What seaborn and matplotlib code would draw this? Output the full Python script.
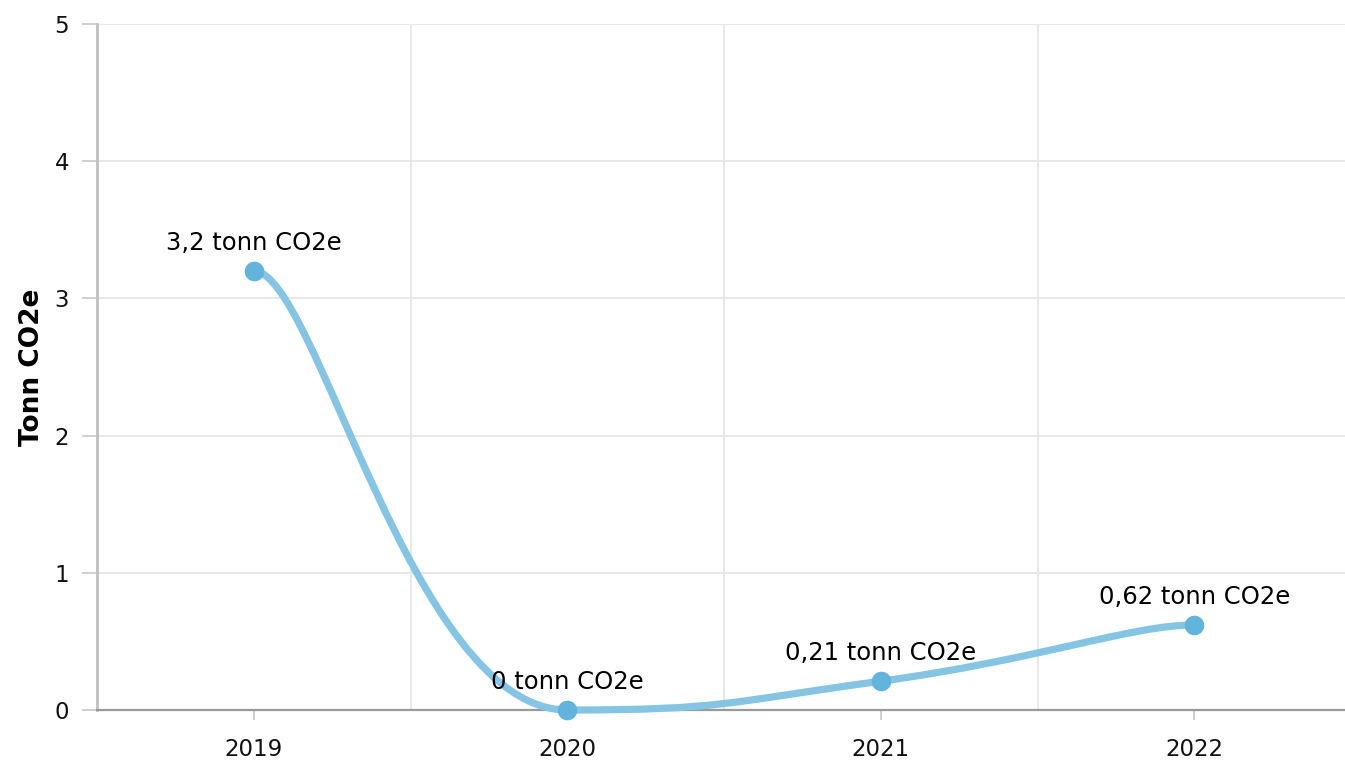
import pandas as pd
import seaborn as sns
import matplotlib.pyplot as plt
from matplotlib.path import Path
from matplotlib.patches import PathPatch

# Data
years = ["2019", "2020", "2021", "2022"]
values = [3.2, 0.0, 0.21, 0.62]
point_labels = ["3,2 tonn CO2e", "0 tonn CO2e", "0,21 tonn CO2e", "0,62 tonn CO2e"]
y_ticks = [0, 1, 2, 3, 4, 5]

line_color = "#85c5e3"
dot_color = "#62b4dc"
grid_color = "#e6e6e6"

sns.set_style("white")
plt.rcParams["font.family"] = ["DejaVu Sans"]

df = pd.DataFrame({"pos": list(range(len(years))), "value": values})


def spline_path(xs, ys):
    # smooth curve through the points, flat at the ends and at turning points
    n = len(xs)
    slopes = []
    for i in range(n):
        if i == 0 or i == n - 1:
            slopes.append(0.0)
        elif (ys[i] - ys[i - 1]) * (ys[i + 1] - ys[i]) <= 0:
            slopes.append(0.0)
        else:
            slopes.append((ys[i + 1] - ys[i - 1]) / (xs[i + 1] - xs[i - 1]))
    handles = [0.2 if i in (0, n - 1) else 0.5 for i in range(n)]
    verts = [(xs[0], ys[0])]
    codes = [Path.MOVETO]
    for i in range(n - 1):
        dx = xs[i + 1] - xs[i]
        h0 = handles[i] * dx
        h1 = handles[i + 1] * dx
        verts += [(xs[i] + h0, ys[i] + slopes[i] * h0),
                  (xs[i + 1] - h1, ys[i + 1] - slopes[i + 1] * h1),
                  (xs[i + 1], ys[i + 1])]
        codes += [Path.CURVE4] * 3
    return Path(verts, codes)


fig = plt.figure(figsize=(13.45, 7.62), dpi=100)
ax = fig.add_axes([97 / 1345, 52 / 762, 1248 / 1345, 686 / 762])

curve = PathPatch(spline_path(df["pos"].tolist(), df["value"].tolist()),
                  fill=False, edgecolor=line_color, lw=5.2,
                  capstyle="round", joinstyle="round", zorder=3, clip_on=False)
ax.add_patch(curve)

sns.scatterplot(data=df, x="pos", y="value", color=dot_color, s=200,
                linewidth=0, zorder=4, clip_on=False, ax=ax, legend=False)

for x, y, lab in zip(df["pos"], df["value"], point_labels):
    ax.annotate(lab, (x, y), xytext=(0, 20), textcoords="offset points",
                ha="center", va="center", fontsize=17.5, color="#000000")

ax.set_xlim(-0.5, 3.48)
ax.set_ylim(0, 5)
ax.set_xticks(range(len(years)))
ax.set_xticklabels(years)
ax.set_xticks([0.5, 1.5, 2.5], minor=True)
ax.set_yticks(y_ticks)

ax.grid(axis="x", which="minor", color=grid_color, lw=1.3)
ax.grid(axis="y", which="major", color=grid_color, lw=1.3)
ax.grid(axis="x", which="major", visible=False)
ax.set_axisbelow(True)

ax.tick_params(axis="x", which="major", length=7, width=1.3, color="#cccccc",
               pad=13, labelsize=16.5, labelcolor="#111111", bottom=True)
ax.tick_params(axis="x", which="minor", length=0)
ax.tick_params(axis="y", length=11, width=1.3, color="#cccccc", pad=9,
               labelsize=16.5, labelcolor="#111111", left=True)

for side in ["top", "right"]:
    ax.spines[side].set_visible(False)
ax.spines["left"].set_color("#c0c0c0")
ax.spines["left"].set_linewidth(2)
ax.spines["bottom"].set_color("#999999")
ax.spines["bottom"].set_linewidth(1.6)

ax.set_xlabel("")
ax.set_ylabel("Tonn CO2e", fontsize=19, fontweight="bold", labelpad=7,
              color="#000000")

fig.savefig("out.png", dpi=100)
